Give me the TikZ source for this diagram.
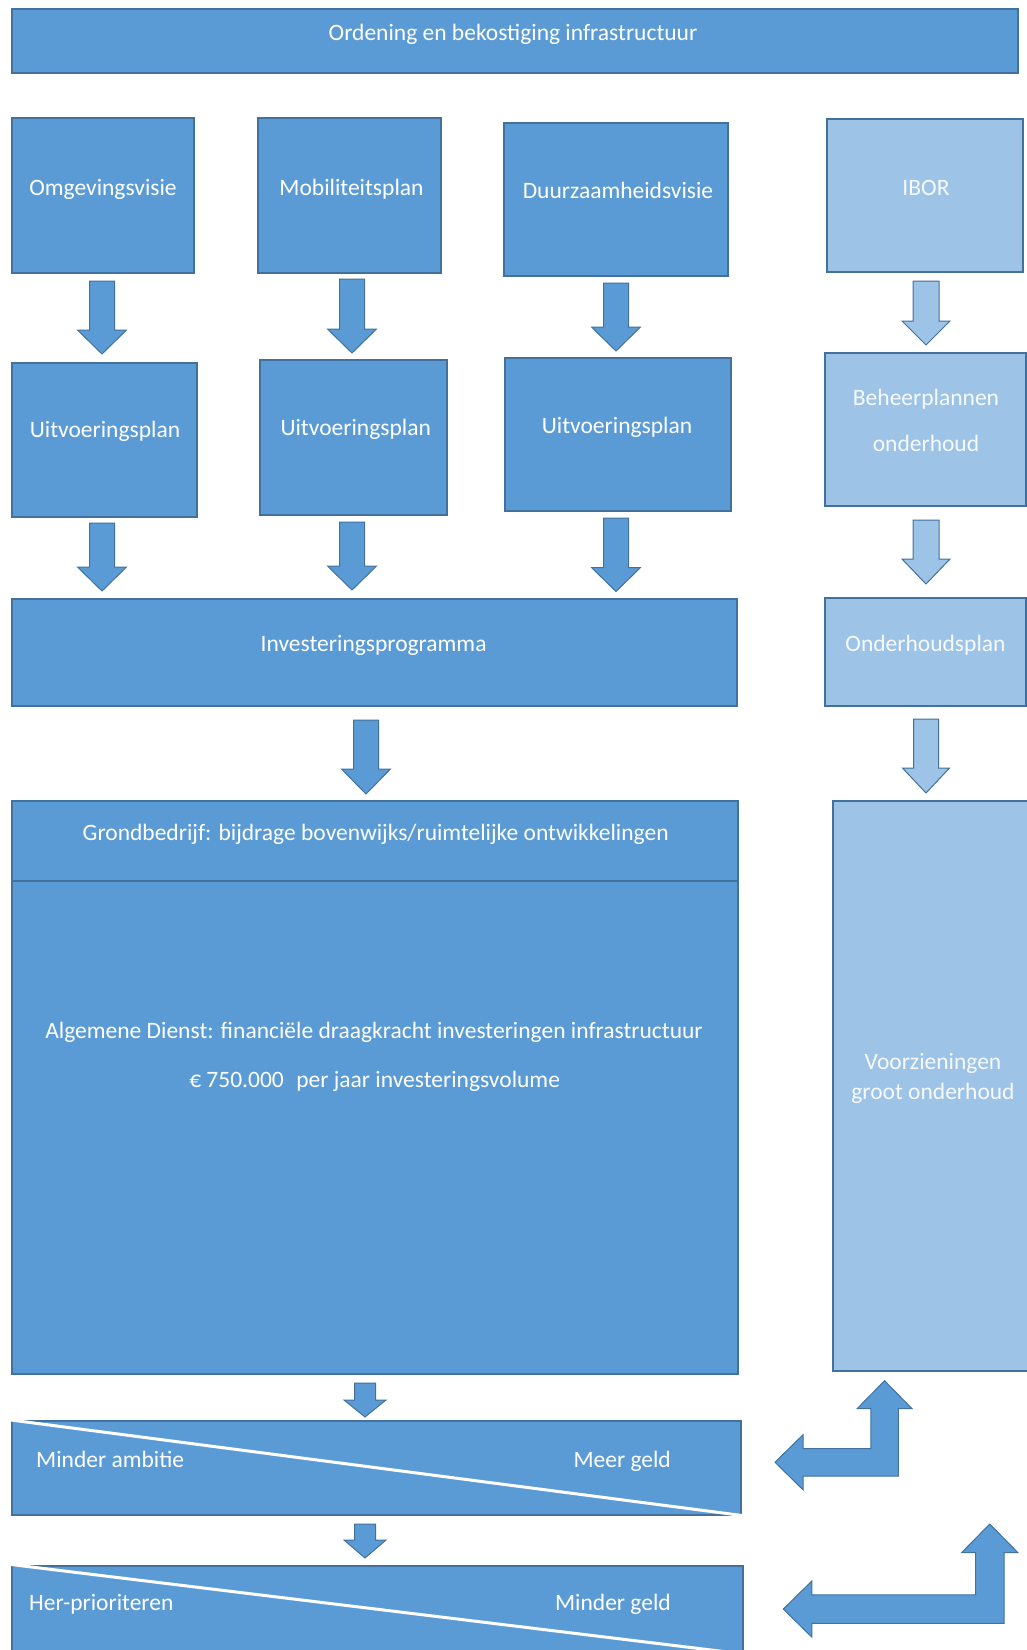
\documentclass[tikz,border=0pt]{standalone}
\usepackage{fontspec}
\setmainfont{Carlito}
\usetikzlibrary{calc}
\definecolor{dfill}{HTML}{5B9BD5}
\definecolor{lfill}{HTML}{9DC3E6}
\definecolor{bord}{HTML}{41719C}
\newcommand{\myfs}{\fontsize{23.5}{28}\selectfont}
% box node: style, name, x1, y1, x2, y2
\newcommand{\bx}[6]{\node[#1, anchor=north west, minimum width={#5-#3}, minimum height={#6-#4}] (#2) at (#3,#4) {};}
% down block arrow: style, cx, ytop, ytip, shaft w, head w, head len
\newcommand{\bdn}[7]{\path[#1] ({#2-#5/2},#3) -- ({#2+#5/2},#3) -- ({#2+#5/2},{#4-#7}) -- ({#2+#6/2},{#4-#7}) -- (#2,#4) -- ({#2-#6/2},{#4-#7}) -- ({#2-#5/2},{#4-#7}) -- cycle;}
% bent arrow (left + up): style, X, Y (outer corner), up tip y, left tip x, shaft w, head w, head len
\newcommand{\bent}[8]{\path[#1] (#2,#3) -- (#2,{#4+#8}) -- ({#2-#6/2+#7/2},{#4+#8}) -- ({#2-#6/2},#4) -- ({#2-#6/2-#7/2},{#4+#8}) -- ({#2-#6},{#4+#8}) -- ({#2-#6},{#3-#6}) -- ({#5+#8},{#3-#6}) -- ({#5+#8},{#3-#6/2-#7/2}) -- (#5,{#3-#6/2}) -- ({#5+#8},{#3-#6/2+#7/2}) -- ({#5+#8},#3) -- cycle;}
\tikzset{
  dbox/.style={rectangle, draw=bord, fill=dfill, line width=2pt, inner sep=0pt},
  lbox/.style={rectangle, draw=bord, fill=lfill, line width=2pt, inner sep=0pt},
  txt/.style={text=white, font=\myfs, inner sep=0pt, text height=16pt, text depth=5pt, yshift=-3pt},
  ltxt/.style={txt, text=white!92!lfill},
  darr/.style={fill=dfill, draw=bord, line width=1pt, line join=miter},
  larr/.style={fill=lfill, draw=bord, line width=1pt, line join=miter},
  diag/.style={draw=white, line width=3pt},
}
\begin{document}
\begin{tikzpicture}[x=1pt, y=-1pt]
\clip (0,0) rectangle (1027,1650);
\fill[white] (0,0) rectangle (1027,1650);

% boxes
\bx{dbox}{title}{10.5}{7.5}{1016.5}{71.5}
\bx{dbox}{omg}{10.7}{117.3}{192.7}{271.7}
\bx{dbox}{mob}{256.7}{117.3}{440}{271.7}
\bx{dbox}{duu}{502.5}{121.7}{727}{275}
\bx{lbox}{ibor}{826}{118}{1022}{271}
\bx{dbox}{uit1}{10.7}{361.7}{195.8}{515.7}
\bx{dbox}{uit2}{259}{359}{446}{514}
\bx{dbox}{uit3}{504}{356.7}{729.5}{510}
\bx{lbox}{beh}{824}{352}{1025}{505}
\bx{dbox}{inv}{10.7}{598}{735.5}{704.5}
\bx{lbox}{ond}{824}{596.5}{1025}{705}
\bx{dbox}{grond}{11}{800.4}{736.7}{880}
\bx{dbox}{alg}{11}{880}{736.7}{1372.8}
\bx{lbox}{voo}{832}{800.4}{1045}{1370}
\bx{dbox}{amb}{11}{1420}{740}{1513.5}
\bx{dbox}{her}{11}{1564.5}{742}{1652}

% diagonals
\draw[diag] (amb.north west) -- (amb.south east);
\draw[diag] (her.north west) -- (her.south east);

% texts
\node[txt] (titleT) at (513,32) {Ordening en bekostiging infrastructuur};
\node[txt] (omgT) at (103,187) {Omgevingsvisie};
\node[txt] (mobT) at (351.5,187) {Mobiliteitsplan};
\node[txt] (duuT) at (618,189.5) {Duurzaamheidsvisie};
\node[ltxt] (iborT) at (926,187) {IBOR};
\node[txt] (uit1T) at (105,429) {Uitvoeringsplan};
\node[txt] (uit2T) at (355.7,427) {Uitvoeringsplan};
\node[txt] (uit3T) at (617,425) {Uitvoeringsplan};
\node[ltxt] (behT1) at (926,397) {Beheerplannen};
\node[ltxt] (behT2) at (926,443) {onderhoud};
\node[txt] (invT) at (373.6,643) {Investeringsprogramma};
\node[ltxt] (ondT) at (925.5,643) {Onderhoudsplan};
\node[txt] (grondT) at (375.7,832) {Grondbedrijf: bijdrage bovenwijks/ruimtelijke ontwikkelingen};
\node[txt] (algT) at (374,1030) {Algemene Dienst: financiële draagkracht investeringen infrastructuur};
\node[txt] (euroT) at (374.6,1078.6) {€ 750.000\hspace{0.3em} per jaar investeringsvolume};
\node[ltxt] (vooT1) at (933,1061) {Voorzieningen};
\node[ltxt] (vooT2) at (933,1091) {groot onderhoud};
\node[txt, anchor=west] (ambL) at (36,1459) {Minder ambitie};
\node[txt, anchor=east] (ambR) at (671,1459) {Meer geld};
\node[txt, anchor=west] (herL) at (29,1602) {Her-prioriteren};
\node[txt, anchor=east] (herR) at (671,1602) {Minder geld};

% down arrows row 1
\bdn{darr}{102}{281}{354}{25}{49}{24}
\bdn{darr}{352}{279}{353}{25}{49}{24}
\bdn{darr}{616}{283}{351}{25}{49}{24}
\bdn{larr}{926}{281}{345}{26}{48}{24}
% row 2
\bdn{darr}{102}{523}{591}{25}{49}{24}
\bdn{darr}{352}{522}{590}{25}{49}{24}
\bdn{darr}{616}{518}{591.5}{25}{49}{24}
\bdn{larr}{926}{520}{584}{26}{48}{25}
% row 3
\bdn{darr}{366}{720}{794}{25}{49}{25}
\bdn{larr}{926}{719}{793}{25}{47}{25}
% small arrows
\bdn{darr}{365}{1383}{1417}{21}{42}{17}
\bdn{darr}{365}{1524}{1558}{21}{42}{18}
% bent arrows
\bent{darr}{898.3}{1476}{1380.7}{775}{27.5}{55}{28}
\bent{darr}{1004}{1623.3}{1524}{783.3}{28.5}{56}{28.5}
\end{tikzpicture}
\end{document}
